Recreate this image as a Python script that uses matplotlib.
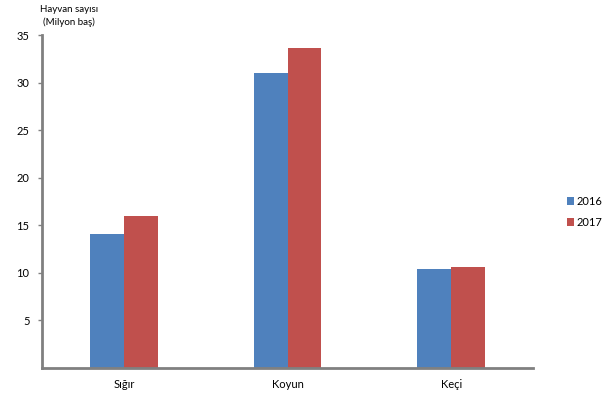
import numpy as np
import matplotlib
matplotlib.use('Agg')
import matplotlib.pyplot as plt

plt.rcParams['font.family'] = ['Lato', 'DejaVu Sans']

categories = ['Sığır', 'Koyun', 'Keçi']
years = ['2016', '2017']
values_2016 = [14.05, 31.0, 10.35]
values_2017 = [15.95, 33.6, 10.6]
colors = ['#4f81bd', '#c0504d']

fig = plt.figure(figsize=(6.12, 3.98), dpi=100)
ax = fig.add_axes([0.0686, 0.0766, 0.8025, 0.835])

x = np.arange(len(categories))
w = 0.207
ax.bar(x - w/2, values_2016, w, color=colors[0], label=years[0])
ax.bar(x + w/2, values_2017, w, color=colors[1], label=years[1])

ax.set_xlim(-0.5, len(categories) - 0.5)
ax.set_ylim(0, 35)
ax.set_yticks([5, 10, 15, 20, 25, 30, 35])
ax.set_xticks(x)
ax.set_xticklabels(categories)
ax.tick_params(axis='x', length=0, labelsize=8, pad=8)
ax.tick_params(axis='y', length=3, width=1, color='#808080', labelsize=8, pad=6)

for s in ['top', 'right']:
    ax.spines[s].set_visible(False)
for s in ['left', 'bottom']:
    ax.spines[s].set_color('#808080')
    ax.spines[s].set_linewidth(2)

fig.text(0.113, 0.977, 'Hayvan sayısı', fontsize=7, ha='center', va='center')
fig.text(0.113, 0.945, '(Milyon baş)', fontsize=7, ha='center', va='center')

ax.legend(loc='center left', bbox_to_anchor=(1.048, 0.468), frameon=False,
          fontsize=8, handlelength=0.7, handleheight=0.7, handletextpad=0.15,
          labelspacing=0.95)

fig.savefig('out.png', dpi=100)
